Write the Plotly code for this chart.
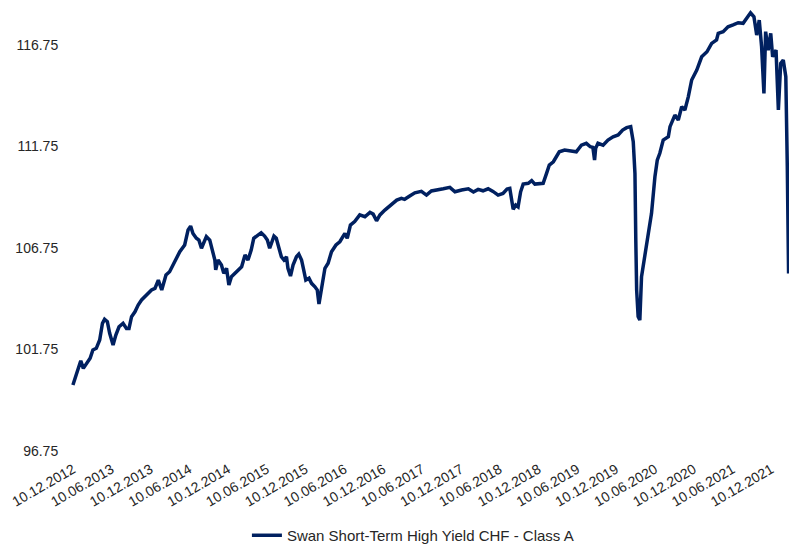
import plotly.graph_objects as go

series_name = "Swan Short-Term High Yield CHF - Class A"

dates = [
    "2012-12-10", "2012-12-19", "2013-01-05", "2013-01-16", "2013-01-28", "2013-02-13", "2013-03-01",
    "2013-03-14", "2013-03-30", "2013-04-15", "2013-04-28", "2013-05-08", "2013-05-21", "2013-06-01",
    "2013-06-17", "2013-06-30", "2013-07-15", "2013-08-03", "2013-08-19", "2013-08-31", "2013-09-12",
    "2013-09-28", "2013-10-13", "2013-10-29", "2013-11-22", "2013-12-15", "2013-12-31", "2014-01-16",
    "2014-02-01", "2014-02-21", "2014-03-10", "2014-04-03", "2014-04-27", "2014-05-20", "2014-06-05",
    "2014-06-17", "2014-06-28", "2014-07-14", "2014-07-26", "2014-08-07", "2014-08-18", "2014-08-30",
    "2014-09-15", "2014-09-28", "2014-10-09", "2014-10-13", "2014-10-24", "2014-11-09", "2014-11-20",
    "2014-12-03", "2014-12-14", "2014-12-26", "2015-01-11", "2015-02-01", "2015-02-12", "2015-02-28",
    "2015-03-14", "2015-03-29", "2015-04-10", "2015-04-30", "2015-05-15", "2015-05-31", "2015-06-13",
    "2015-06-24", "2015-07-05", "2015-07-14", "2015-07-25", "2015-08-07", "2015-08-18", "2015-08-30",
    "2015-09-11", "2015-09-18", "2015-09-30", "2015-10-12", "2015-10-28", "2015-11-08", "2015-11-21",
    "2015-12-01", "2015-12-11", "2015-12-26", "2016-01-07", "2016-01-23", "2016-02-03", "2016-02-11",
    "2016-02-24", "2016-03-10", "2016-03-25", "2016-04-10", "2016-05-01", "2016-05-19", "2016-06-12",
    "2016-06-23", "2016-07-08", "2016-07-28", "2016-08-21", "2016-09-14", "2016-10-08", "2016-10-23",
    "2016-11-08", "2016-11-24", "2016-12-17", "2017-01-10", "2017-02-11", "2017-03-05", "2017-03-20",
    "2017-04-13", "2017-05-07", "2017-06-07", "2017-07-01", "2017-07-24", "2017-08-25", "2017-09-18",
    "2017-10-19", "2017-11-12", "2017-12-13", "2018-01-14", "2018-02-07", "2018-03-01", "2018-03-24",
    "2018-04-17", "2018-05-10", "2018-06-03", "2018-06-26", "2018-07-15", "2018-07-28", "2018-08-05",
    "2018-08-13", "2018-08-25", "2018-09-05", "2018-09-17", "2018-09-29", "2018-10-23", "2018-11-08",
    "2018-11-23", "2018-12-17", "2019-01-01", "2019-01-17", "2019-01-30", "2019-02-18", "2019-03-06",
    "2019-03-18", "2019-04-12", "2019-05-06", "2019-05-29", "2019-06-06", "2019-06-30", "2019-07-23",
    "2019-08-11", "2019-08-23", "2019-08-31", "2019-09-05", "2019-09-16", "2019-10-10", "2019-11-02",
    "2019-11-26", "2019-12-20", "2020-01-10", "2020-01-29", "2020-02-17", "2020-02-29", "2020-03-08",
    "2020-03-12", "2020-03-16", "2020-03-23", "2020-03-31", "2020-04-08", "2020-04-24", "2020-05-09",
    "2020-05-25", "2020-06-10", "2020-06-21", "2020-07-03", "2020-07-19", "2020-08-12", "2020-08-20",
    "2020-09-12", "2020-09-28", "2020-10-14", "2020-10-29", "2020-11-14", "2020-11-30", "2020-12-24",
    "2021-01-16", "2021-02-10", "2021-03-04", "2021-03-27", "2021-04-04", "2021-04-27", "2021-05-20",
    "2021-06-13", "2021-07-07", "2021-07-30", "2021-08-15", "2021-09-03", "2021-09-19", "2021-10-02",
    "2021-10-14", "2021-10-25", "2021-11-05", "2021-11-13", "2021-11-25", "2021-12-07", "2021-12-16",
    "2022-01-01", "2022-01-12", "2022-01-23", "2022-02-04", "2022-02-16", "2022-02-23", "2022-03-01",
]

values = [
    100.00, 100.33, 100.90, 101.20, 100.82, 101.07, 101.32,
    101.73, 101.81, 102.22, 103.04, 103.24, 103.12, 102.55,
    101.97, 102.46, 102.87, 103.04, 102.79, 102.79, 103.37,
    103.61, 103.94, 104.19, 104.43, 104.68, 104.76, 105.17,
    104.68, 105.42, 105.58, 106.08, 106.57, 106.90, 107.64,
    107.83, 107.47, 107.23, 107.14, 106.74, 107.06, 107.31,
    107.14, 106.65, 106.16, 105.67, 106.16, 105.91, 105.50,
    105.75, 104.93, 105.34, 105.50, 105.67, 105.83, 106.41,
    106.16, 106.65, 107.23, 107.39, 107.50, 107.34, 107.14,
    106.74, 107.06, 107.34, 107.23, 106.74, 106.32, 106.16,
    106.32, 105.75, 105.37, 105.91, 106.32, 106.45, 106.16,
    105.67, 105.17, 105.26, 105.01, 104.84, 104.68, 103.99,
    104.84, 105.75, 106.00, 106.57, 106.90, 107.06, 107.47,
    107.23, 107.88, 108.05, 108.38, 108.29, 108.51, 108.42,
    108.09, 108.38, 108.62, 108.82, 109.11, 109.20, 109.15,
    109.31, 109.47, 109.54, 109.36, 109.56, 109.61, 109.67,
    109.74, 109.52, 109.61, 109.67, 109.51, 109.64, 109.57,
    109.67, 109.54, 109.36, 109.44, 109.66, 109.69, 109.28,
    108.66, 108.87, 108.78, 109.52, 109.90, 109.94, 110.07,
    109.90, 109.94, 109.94, 110.43, 110.84, 111.00, 111.25,
    111.49, 111.58, 111.54, 111.54, 111.49, 111.82, 111.91,
    111.74, 111.71, 111.08, 111.66, 111.91, 111.82, 112.07,
    112.23, 112.32, 112.56, 112.68, 112.73, 111.99, 110.43,
    107.14, 104.68, 103.37, 103.20, 105.34, 106.49, 107.31,
    108.46, 110.26, 111.08, 111.42, 112.07, 112.23, 112.73,
    113.30, 113.06, 113.71, 113.55, 114.20, 115.03, 115.52,
    116.17, 116.42, 116.83, 117.00, 117.33, 117.41, 117.65,
    117.74, 117.85, 117.82, 118.07, 118.34, 118.14, 117.24,
    117.98, 116.67, 114.37, 117.41, 116.50, 117.33, 116.17,
    116.50, 113.55, 115.85, 116.01, 115.19, 110.75, 105.50,
]

y_ticks = [96.75, 101.75, 106.75, 111.75, 116.75]
y_tick_labels = ["96.75", "101.75", "106.75", "111.75", "116.75"]

x_ticks = [
    "2012-12-10", "2013-06-10", "2013-12-10", "2014-06-10", "2014-12-10", "2015-06-10", "2015-12-10",
    "2016-06-10", "2016-12-10", "2017-06-10", "2017-12-10", "2018-06-10", "2018-12-10", "2019-06-10",
    "2019-12-10", "2020-06-10", "2020-12-10", "2021-06-10", "2021-12-10",
]
x_tick_labels = [
    "10.12.2012", "10.06.2013", "10.12.2013", "10.06.2014", "10.12.2014", "10.06.2015", "10.12.2015",
    "10.06.2016", "10.12.2016", "10.06.2017", "10.12.2017", "10.06.2018", "10.12.2018", "10.06.2019",
    "10.12.2019", "10.06.2020", "10.12.2020", "10.06.2021", "10.12.2021",
]

line_color = "#002060"
text_color = "#262626"
font_family = "Liberation Sans, Arial, sans-serif"

fig = go.Figure()
fig.add_trace(go.Scatter(
    x=dates, y=values, mode="lines", name=series_name,
    line=dict(color=line_color, width=3.5),
))

fig.update_layout(
    width=789, height=545,
    margin=dict(l=71, r=0, t=0, b=94, autoexpand=False),
    paper_bgcolor="white", plot_bgcolor="white",
    font=dict(family=font_family, size=14, color=text_color),
    showlegend=True,
    legend=dict(
        orientation="h", x=0.245, xanchor="left", y=-0.224, yanchor="bottom",
        font=dict(size=15, color=text_color), bgcolor="rgba(0,0,0,0)",
    ),
    xaxis=dict(
        type="date", range=["2012-12-01", "2022-03-03"], automargin=False,
        tickmode="array", tickvals=x_ticks, ticktext=x_tick_labels,
        tickangle=-30, showgrid=False, zeroline=False, showline=False,
        ticks="outside", ticklen=4, tickcolor="rgba(0,0,0,0)",
        tickfont=dict(size=14, color=text_color),
    ),
    yaxis=dict(
        range=[96.75, 118.97], automargin=False,
        tickmode="array", tickvals=y_ticks, ticktext=y_tick_labels,
        showgrid=False, zeroline=False, showline=False,
        ticks="outside", ticklen=9, tickcolor="rgba(0,0,0,0)",
        tickfont=dict(size=14, color=text_color),
    ),
)

fig.write_html("out.html")
